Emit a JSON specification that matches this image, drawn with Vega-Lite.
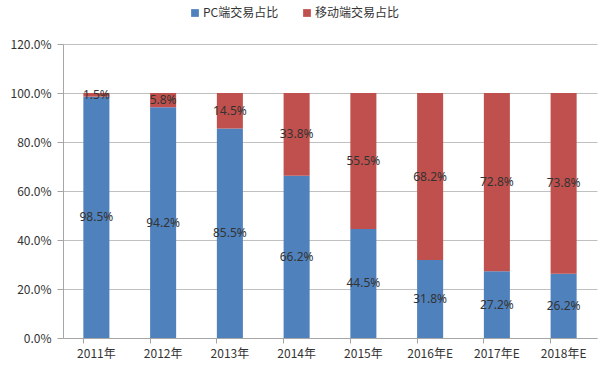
{
  "$schema": "https://vega.github.io/schema/vega-lite/v6.json",
  "width": 534,
  "height": 294,
  "autosize": "none",
  "padding": {"left": 63, "top": 44, "right": 3, "bottom": 30},
  "background": "white",
  "config": {
    "view": {"stroke": null},
    "font": "Noto Sans CJK SC",
    "axis": {"labelFont": "Noto Sans CJK SC", "labelFontSize": 12, "labelColor": "#333333", "domainColor": "#a6a6a6", "tickColor": "#a6a6a6", "gridColor": "#c0c0c0"},
    "legend": {"labelFont": "Noto Sans CJK SC", "labelFontSize": 12, "labelColor": "#333333"}
  },
  "data": {
    "values": [
      {"year": "2011年", "series": "PC端交易占比", "value": 0.985},
      {"year": "2011年", "series": "移动端交易占比", "value": 0.015},
      {"year": "2012年", "series": "PC端交易占比", "value": 0.942},
      {"year": "2012年", "series": "移动端交易占比", "value": 0.058},
      {"year": "2013年", "series": "PC端交易占比", "value": 0.855},
      {"year": "2013年", "series": "移动端交易占比", "value": 0.145},
      {"year": "2014年", "series": "PC端交易占比", "value": 0.662},
      {"year": "2014年", "series": "移动端交易占比", "value": 0.338},
      {"year": "2015年", "series": "PC端交易占比", "value": 0.445},
      {"year": "2015年", "series": "移动端交易占比", "value": 0.555},
      {"year": "2016年E", "series": "PC端交易占比", "value": 0.318},
      {"year": "2016年E", "series": "移动端交易占比", "value": 0.682},
      {"year": "2017年E", "series": "PC端交易占比", "value": 0.272},
      {"year": "2017年E", "series": "移动端交易占比", "value": 0.728},
      {"year": "2018年E", "series": "PC端交易占比", "value": 0.262},
      {"year": "2018年E", "series": "移动端交易占比", "value": 0.738}
    ]
  },
  "transform": [
    {"stack": "value", "groupby": ["year"], "sort": [{"field": "series", "order": "ascending"}], "as": ["v0", "v1"]}
  ],
  "encoding": {
    "x": {
      "field": "year", "type": "nominal", "sort": null, "title": null,
      "scale": {"paddingInner": 0.61, "paddingOuter": 0.305},
      "axis": {"labelAngle": 0, "bandPosition": 0, "tickSize": 5, "labelPadding": 5, "grid": false, "domainWidth": 1}
    }
  },
  "layer": [
    {
      "mark": {"type": "bar"},
      "encoding": {
        "y": {
          "field": "v0", "type": "quantitative", "title": null,
          "scale": {"domain": [0, 1.2]},
          "axis": {"format": ".1%", "values": [0, 0.2, 0.4, 0.6, 0.8, 1.0, 1.2], "tickSize": 6, "labelPadding": 6, "grid": true}
        },
        "y2": {"field": "v1"},
        "color": {
          "field": "series", "type": "nominal", "title": null,
          "scale": {"domain": ["PC端交易占比", "移动端交易占比"], "range": ["#4F81BD", "#C0504D"]},
          "legend": {"orient": "none", "direction": "horizontal", "legendX": 126, "legendY": -37, "symbolType": "square", "symbolSize": 60, "symbolStrokeWidth": 0, "columnPadding": 22, "labelOffset": 2}
        }
      }
    },
    {
      "transform": [
        {"fold": ["v0", "v1"], "as": ["edge", "pos"]},
        {"aggregate": [{"op": "mean", "field": "pos", "as": "mid"}], "groupby": ["year", "series", "value"]}
      ],
      "mark": {"type": "text", "fontSize": 12, "color": "#333333", "baseline": "middle", "font": "Noto Sans"},
      "encoding": {
        "y": {"field": "mid", "type": "quantitative"},
        "text": {"field": "value", "type": "quantitative", "format": ".1%"}
      }
    }
  ]
}
